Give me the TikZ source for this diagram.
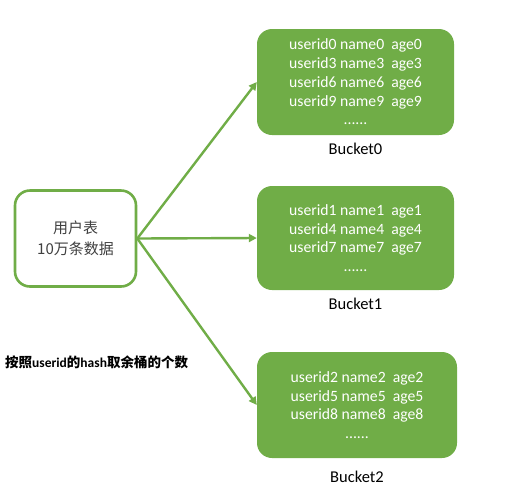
\documentclass[tikz,border=0pt]{standalone}
\usepackage{fontspec}
\setmainfont{Carlito}
\newfontfamily\cjk{Noto Sans CJK SC}
\usetikzlibrary{positioning,arrows.meta}
\definecolor{bgreen}{HTML}{70AD47}
\definecolor{txtgray}{HTML}{404040}

\begin{document}
\begin{tikzpicture}[x=1pt,y=-1pt,
  bucket/.style={fill=bgreen, draw=none, rounded corners=15pt, text=white,
    minimum width=197pt, minimum height=106pt, align=center,
    font=\fontsize{15.7}{18.7}\selectfont},
  usertab/.style={draw=bgreen, line width=2.6pt, rounded corners=15pt, fill=white,
    minimum width=121pt, minimum height=96pt, align=center, text=txtgray,
    font=\fontsize{15}{21}\selectfont\cjk},
  bname/.style={font=\fontsize{16.5}{19}\selectfont, inner sep=0pt},
  link/.style={draw=bgreen, line width=2.4pt, -{Triangle[length=8pt,width=8pt]}}]
\useasboundingbox (0,0) rectangle (518,499);
% source table
\node[usertab] (tab) at (75.5,238.5) {用户表\\10万条数据};
% buckets
\node[bucket] (b0) at (355.5,82) {userid0 name0\ \ age0\\userid3 name3\ \ age3\\userid6 name6\ \ age6\\userid9 name9\ \ age9\\......};
\node[bucket, minimum height=104pt] (b1) at (355.5,238) {userid1 name1\ \ age1\\userid4 name4\ \ age4\\userid7 name7\ \ age7\\......};
\node[bucket, minimum width=200pt] (b2) at (357,405) {userid2 name2\ \ age2\\userid5 name5\ \ age5\\userid8 name8\ \ age8\\......};
\node[bname, below=8pt of b0] (l0) {Bucket0};
\node[bname, below=8pt of b1] (l1) {Bucket1};
\node[bname, below=13pt of b2] (l2) {Bucket2};
% note
\node[font=\fontsize{13.5}{16}\selectfont\bfseries, anchor=west, inner sep=0pt] (note) at (5,362)
  {{\cjk\bfseries 按照}userid{\cjk\bfseries 的}hash{\cjk\bfseries 取余桶的个数}};
% arrows
\draw[link] (tab.east) -- (b0.west);
\draw[link] (tab.east) -- (b1.west);
\draw[link] (tab.east) -- (b2.west);
\end{tikzpicture}
\end{document}
